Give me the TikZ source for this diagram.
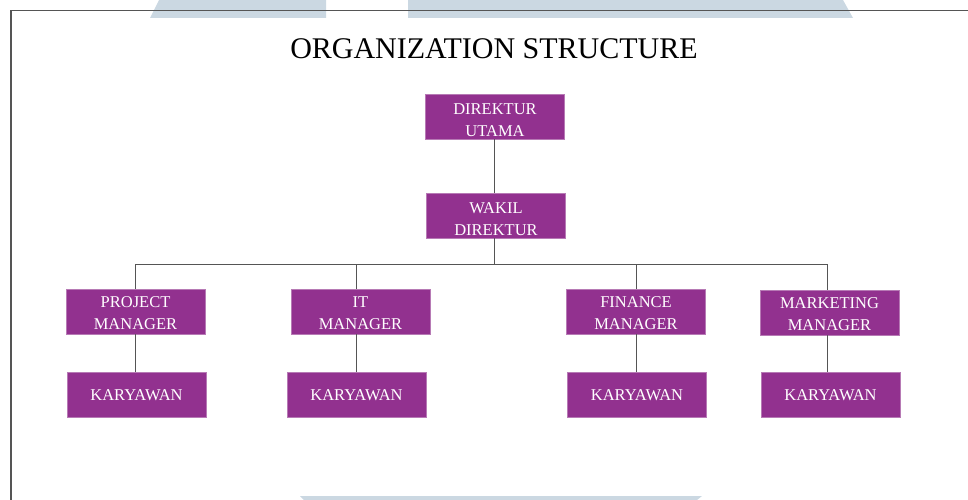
\documentclass[tikz,border=0pt]{standalone}
\usepackage{fontspec}
\setmainfont{Liberation Serif}
\definecolor{boxfill}{HTML}{92318F}
\definecolor{boxedge}{HTML}{B77AB5}
\definecolor{markgray}{HTML}{CBD8E2}
\definecolor{frameline}{HTML}{555555}
% two lines of box text, pushed down a little
\newcommand{\sunklines}[2]{\raisebox{-#1}[\height][\depth]{\begin{tabular}{@{}c@{}}#2\end{tabular}}}
\tikzset{
  orgbox/.style={draw=boxedge, line width=0.8pt, fill=boxfill, text=white,
                 minimum width=139pt, minimum height=45pt, inner sep=0pt,
                 align=center, font=\fontsize{16.5}{22}\selectfont},
  link/.style={draw=frameline, line width=0.9pt}
}
\begin{document}
\begin{tikzpicture}
[x=1pt, y=-1pt]
\useasboundingbox (0,0) rectangle (968,500);
% background marks
\fill[markgray] (159,0) -- (326,0) -- (326,18) -- (150,18) -- cycle;
\fill[markgray] (408,0) -- (843,0) -- (853,18) -- (408,18) -- cycle;
\fill[markgray] (300,496) -- (702,496) -- (697,500) -- (304,500) -- cycle;
% frame
\draw[frameline, line width=1.3pt] (11,500) -- (11,10.5) -- (968,10.5);
% title
\node[anchor=base, font=\fontsize{30}{36}\selectfont] (title) at (494,59) {ORGANIZATION STRUCTURE};
% top
\node[orgbox] (dirut) at (495,116.5) {\sunklines{5pt}{DIREKTUR\\UTAMA}};
\node[orgbox] (wadir) at (496,215.5) {\sunklines{5pt}{WAKIL\\DIREKTUR}};
% managers
\node[orgbox] (pm) at (135.5,311.5) {\sunklines{3pt}{PROJECT\\MANAGER}};
\node[orgbox] (itm) at (360.5,311.5) {\sunklines{3pt}{IT\\MANAGER}};
\node[orgbox] (fm) at (636,311.5) {\sunklines{3pt}{FINANCE\\MANAGER}};
\node[orgbox] (mm) at (829.5,312.5) {\sunklines{3pt}{MARKETING\\MANAGER}};
% staff
\node[orgbox] (kpm) at (136.5,395) {KARYAWAN};
\node[orgbox] (kit) at (356.5,395) {KARYAWAN};
\node[orgbox] (kfm) at (637,395) {KARYAWAN};
\node[orgbox] (kmm) at (830.5,395) {KARYAWAN};
% connectors
\coordinate (bus) at (494,264.3);
\coordinate (itx) at (356,0);
\coordinate (mmx) at (827,0);
\draw[link] (dirut.south -| bus) -- (wadir.north -| bus);
\draw[link] (wadir.south -| bus) -- (bus);
\draw[link] (pm.north) |- (bus) -| (mm.north -| mmx);
\draw[link] (bus) -| (itm.north -| itx);
\draw[link] (bus) -| (fm.north);
\draw[link] (pm.south) -- (pm.south |- kpm.north);
\draw[link] (itm.south -| itx) -- (kit.north -| itx);
\draw[link] (fm.south) -- (fm.south |- kfm.north);
\draw[link] (mm.south -| mmx) -- (kmm.north -| mmx);
\end{tikzpicture}
\end{document}
